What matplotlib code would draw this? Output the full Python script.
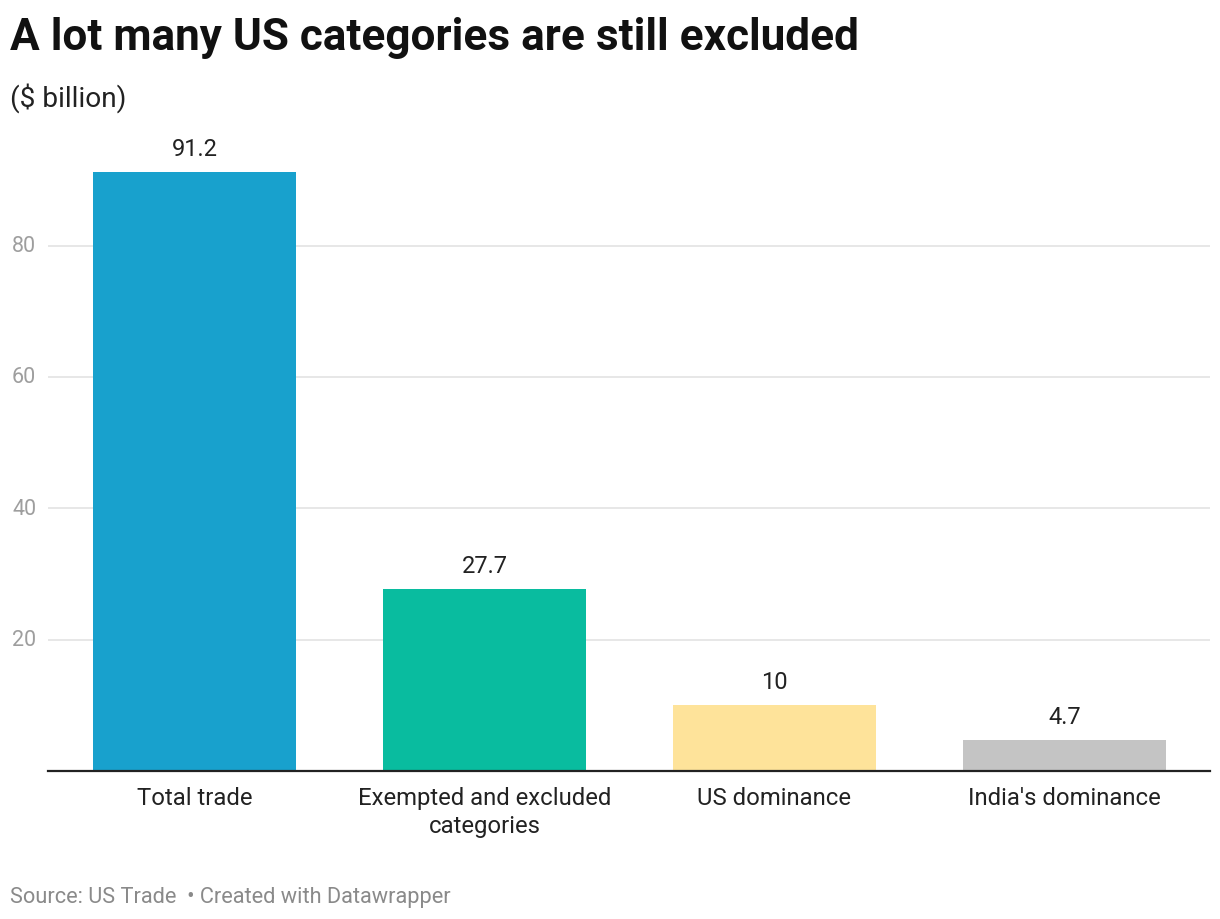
import matplotlib.pyplot as plt

categories = ["Total trade", "Exempted and excluded\ncategories", "US dominance", "India's dominance"]
values = [91.2, 27.7, 10, 4.7]
value_labels = ["91.2", "27.7", "10", "4.7"]
bar_colors = ["#18a1cd", "#09bc9f", "#fee39a", "#c4c4c4"]
y_ticks = [20, 40, 60, 80]

plt.rcParams["font.family"] = ["Roboto", "DejaVu Sans"]

fig = plt.figure(figsize=(12.2, 9.2), dpi=100)
ax = fig.add_axes([48 / 1220, 1 - 772 / 920, (1210 - 48) / 1220, (772 - 161.2) / 920])

x = range(len(categories))
ax.bar(x, values, width=0.7, color=bar_colors, zorder=2)
for xi, v, lab in zip(x, values, value_labels):
    ax.annotate(lab, (xi, v), xytext=(0, 9), textcoords="offset points",
                ha="center", va="bottom", fontsize=17, color="#222222")

ax.set_xlim(-0.505, 3.502)
ax.set_ylim(0, 93)
ax.set_yticks(y_ticks)
ax.yaxis.grid(True, color="#e3e3e3", linewidth=1.2, zorder=0)
ax.tick_params(axis="y", length=0, labelleft=False)
for t in y_ticks:
    ax.annotate(str(t), (0, t), xycoords=ax.get_yaxis_transform(),
                xytext=(-36, 0), textcoords="offset pixels",
                ha="left", va="center", fontsize=15.5, color="#9e9e9e")

ax.set_xticks(list(x))
ax.set_xticklabels(categories, fontsize=17.2, color="#222222", linespacing=1.25)
ax.tick_params(axis="x", length=0, pad=11)

for s in ["top", "right", "left"]:
    ax.spines[s].set_visible(False)
ax.spines["bottom"].set_color("#222222")
ax.spines["bottom"].set_linewidth(1.6)
ax.spines["bottom"].set_zorder(3)

fig.text(10 / 1220, 1 - 38 / 920, "A lot many US categories are still excluded",
         fontsize=31.8, fontweight="bold", color="#111111", va="center", ha="left")
fig.text(10 / 1220, 1 - 98 / 920, "($ billion)", fontsize=20.2, color="#222222",
         va="center", ha="left")
fig.text(10 / 1220, 1 - 898 / 920, "Source: US Trade  \u2022 Created with Datawrapper",
         fontsize=15.7, color="#8a8a8a", va="center", ha="left")

fig.savefig("out.png", dpi=100, facecolor="white")
